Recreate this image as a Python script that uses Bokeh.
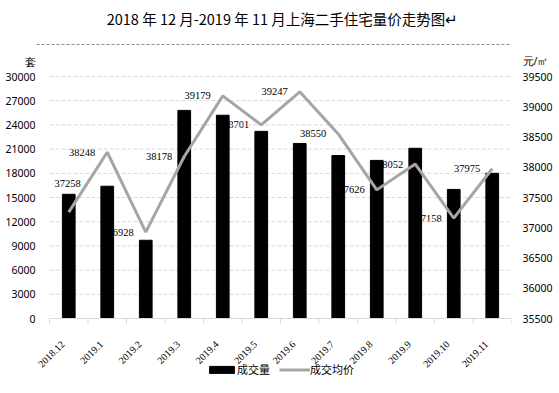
import math
from bokeh.plotting import figure
from bokeh.models import (Range1d, LinearAxis, FixedTicker, ColumnDataSource, LabelSet,
                          Label, Legend, LegendItem)
from bokeh.embed import file_html
from bokeh.resources import INLINE

# ---- data ----
months = ["2018.12", "2019.1", "2019.2", "2019.3", "2019.4", "2019.5",
          "2019.6", "2019.7", "2019.8", "2019.9", "2019.10", "2019.11"]
volume = [15400, 16400, 9700, 25800, 25200, 23200, 21700, 20200, 19600, 21100, 16000, 18000]
price = [37258, 38248, 36928, 38178, 39179, 38701, 39247, 38550, 37626, 38052, 37158, 37975]
left_ticks = list(range(0, 30001, 3000))
right_ticks = list(range(35500, 39501, 500))
title_text = "2018 年 12 月-2019 年 11 月上海二手住宅量价走势图↵"
left_unit = "套"
right_unit = "元/㎡"
series_names = ["成交量", "成交均价"]

# ---- layout (pixels of the 559x393 canvas) ----
W, H = 559, 393
PANEL_L = 36                           # left axis panel width
CAT_L, CAT_R = 49, 511                 # span of the 12 categories
Y_TOP_PX, Y_ZERO_PX = 76, 318          # where the value scale's top/bottom tick sit
BOX = (2, 44, 556, 390)                # dashed chart box: left, top, right, bottom
N = len(months)
lpp = (left_ticks[-1] - left_ticks[0]) / (Y_ZERO_PX - Y_TOP_PX)     # left units per px
rpp = (right_ticks[-1] - right_ticks[0]) / (Y_ZERO_PX - Y_TOP_PX)   # right units per px
cw = (CAT_R - CAT_L) / N


def ly(py):
    return left_ticks[-1] + (Y_TOP_PX - py) * lpp


def ry(py):
    return right_ticks[-1] + (Y_TOP_PX - py) * rpp


def lx(px):
    return (px - CAT_L) / cw


FONT = "Noto Sans"
CJK = "Noto Sans CJK SC"

p = figure(width=W, height=H, output_backend="svg", toolbar_location=None, title=None,
           x_range=Range1d(lx(PANEL_L), N), y_range=Range1d(ly(H), ly(0)),
           x_axis_location=None,
           min_border_left=PANEL_L, min_border_right=W - CAT_R,
           min_border_top=0, min_border_bottom=0,
           background_fill_color="white", border_fill_color="white")
p.outline_line_color = None
p.extra_y_ranges = {"price": Range1d(ry(H), ry(0))}
p.xgrid.visible = False
p.ygrid.visible = False

left_unit_at = round(ly(62))
right_unit_at = round(ry(61))


def style_value_axis(ax, standoff):
    ax.axis_line_color = None
    ax.major_tick_line_color = None
    ax.minor_tick_line_color = None
    ax.major_tick_out = 0
    ax.major_tick_in = 0
    ax.minor_tick_out = 0
    ax.minor_tick_in = 0
    ax.major_label_text_font = FONT
    ax.major_label_text_font_size = "10.5px"
    ax.major_label_text_color = "black"
    ax.major_label_standoff = standoff


ya = p.yaxis[0]
ya.ticker = FixedTicker(ticks=left_ticks + [left_unit_at])
ya.major_label_overrides = {left_unit_at: left_unit}
style_value_axis(ya, 1)

ra = LinearAxis(y_range_name="price", ticker=FixedTicker(ticks=right_ticks + [right_unit_at]))
ra.major_label_overrides = {right_unit_at: right_unit}
style_value_axis(ra, 11)
p.add_layout(ra, "right")


# top edge of the dashed chart box, drawn as a tick-less axis line
def box_edge(**kw):
    ax = LinearAxis(ticker=FixedTicker(ticks=[]), **kw)
    ax.axis_line_color = "#8c8c8c"
    ax.axis_line_dash = "3 2"
    ax.axis_line_width = 1
    ax.major_tick_out = 0
    ax.major_tick_in = 0
    ax.minor_tick_out = 0
    ax.minor_tick_in = 0
    ax.major_label_standoff = 0
    ax.major_label_text_font_size = "0px"
    return ax


xbounds = (lx(BOX[0]), lx(BOX[2]))
p.add_layout(box_edge(fixed_location=ly(BOX[1]), bounds=xbounds), "above")

centers = [i + 0.5 for i in range(N)]
bounds = list(range(N + 1))
grid_vals = left_ticks[1:]

# dashed horizontal grid across the category span only
p.segment(x0=[0] * len(grid_vals), x1=[N] * len(grid_vals), y0=grid_vals, y1=grid_vals,
          line_color="#d9d9d9", line_dash="4 2", line_width=1)

# value labels: left of each point; the first one is lifted so it stays inside the frame
xoff = [-12] * N
yoff = [0] * N
xoff[0] = 12
yoff[0] = 29
src = ColumnDataSource(dict(x=centers, vol=volume, price=price, month=months,
                            lab=[str(v) for v in price], xoff=xoff, yoff=yoff))

labels = LabelSet(x="x", y="price", text="lab", source=src, y_range_name="price",
                  x_offset="xoff", y_offset="yoff", text_align="right",
                  text_baseline="middle", text_font=FONT, text_font_size="10.5px",
                  text_color="black", level="underlay")
p.add_layout(labels)

bars = p.vbar(x="x", top="vol", bottom=0, width=0.33, source=src,
              fill_color="black", line_color="black")

# category axis: base line, boundary ticks, rotated month labels
p.segment(x0=[0], x1=[N], y0=[0], y1=[0], line_color="#d9d9d9", line_width=1)
p.segment(x0=bounds, y0=[0] * len(bounds), x1=bounds, y1=[-5 * lpp] * len(bounds),
          line_color="#d9d9d9", line_width=1)
p.add_layout(LabelSet(x="x", y=0, text="month", source=src, angle=math.pi / 4,
                      text_align="right", text_baseline="middle", x_offset=-6, y_offset=-24,
                      text_font=FONT, text_font_size="10px", text_color="black"))

line = p.line(x="x", y="price", source=src, y_range_name="price",
              line_color="#a5a5a5", line_width=3)

# title
p.add_layout(Label(x=lx(282), y=ly(18), text=title_text, text_align="center",
                   text_baseline="middle", text_font=CJK, text_font_size="14.5px",
                   text_color="black"))

# series legend
leg = Legend(items=[LegendItem(label=series_names[0], renderers=[bars]),
                    LegendItem(label=series_names[1], renderers=[line])],
             location=(157 + CAT_L - PANEL_L, 16), orientation="horizontal",
             glyph_width=31, glyph_height=9, label_standoff=0, spacing=9,
             padding=0, margin=0, border_line_color=None, background_fill_alpha=0,
             label_text_font=CJK, label_text_font_size="11px", label_text_color="black")
p.add_layout(leg)

open("out.html", "w").write(file_html(p, INLINE))
